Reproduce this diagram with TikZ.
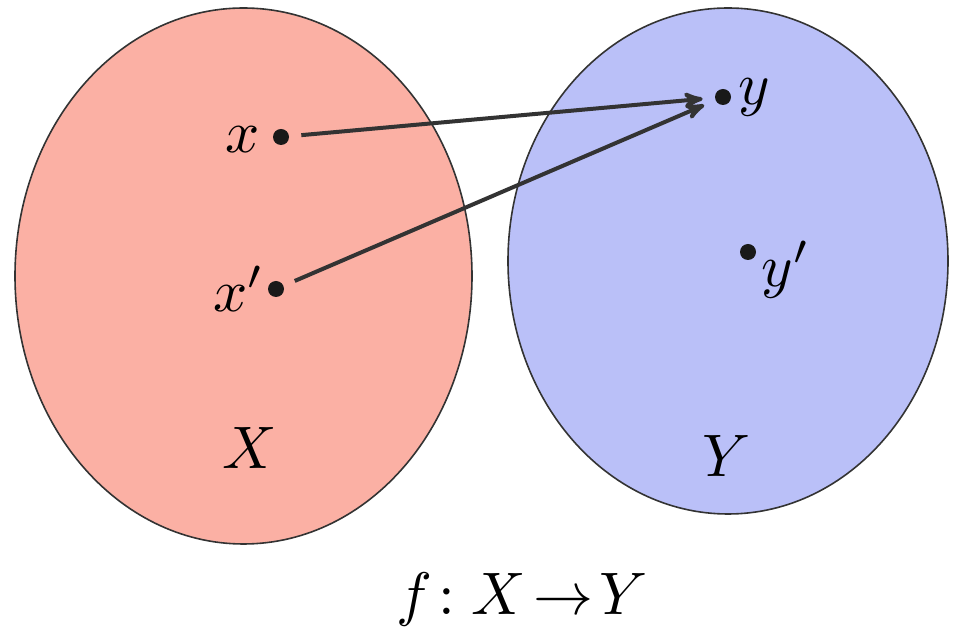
\documentclass[tikz,border=0pt]{standalone}
\usepackage{amsmath}
\usepackage{amssymb}
\usepackage{tikz}
\usetikzlibrary{arrows}
\usetikzlibrary{positioning}

\definecolor{setred}{RGB}{251,176,164}
\definecolor{setblue}{RGB}{186,192,248}
\definecolor{edgegray}{RGB}{51,51,51}

\begin{document}
\begin{tikzpicture}[x=0.5pt,y=-0.5pt,
		setshape/.style={draw=edgegray,line width=0.8pt},
		elem/.style={circle,fill=black!90,inner sep=0pt,minimum size=8pt},
		lab/.style={inner sep=0pt,scale=3},
		map/.style={->,>=stealth',draw=edgegray,line width=2pt,shorten <=6pt,shorten >=6pt}]
			\useasboundingbox (0,0) rectangle (960,641);
			\draw [setshape,fill=setred] (243.5,276) ellipse [x radius=228.5,y radius=268];
			\draw [setshape,fill=setblue] (728,261) ellipse [x radius=220,y radius=253];
			\node [elem] (x) at (281,137) {};
			\node [elem] (xp) at (276,289) {};
			\node [elem] (y) at (723,97) {};
			\node [elem] (yp) at (748,252) {};
			\node [lab,left=6pt of x,yshift=-0.5pt] (xlab) {$x$};
			\node [lab,left=1pt of xp] (xplab) {$x'$};
			\node [lab,right=3pt of y] (ylab) {$y$};
			\node [lab,right=2pt of yp,yshift=-3pt] (yplab) {$y'$};
			\node [lab] (X) at (250,448) {$X$};
			\node [lab] (Y) at (727,456) {$Y$};
			\node [lab] (f) at (522,600) {$f\!:X\!\to\!Y$};
			\draw [map] (x) -- (y);
			\draw [map] (xp) -- (y);
			\end{tikzpicture}
\end{document}
